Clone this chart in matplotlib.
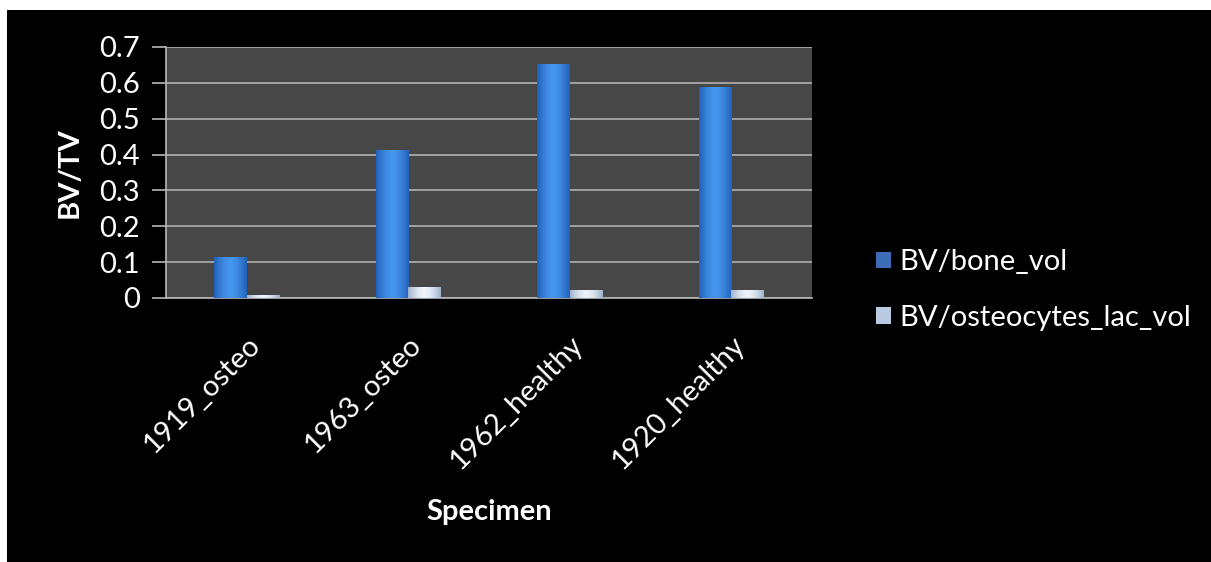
import numpy as np
import matplotlib
matplotlib.use("Agg")
import matplotlib.pyplot as plt
from matplotlib.patches import Rectangle

plt.rcParams['font.family'] = ['Lato', 'DejaVu Sans']

specimens = ['1919_osteo', '1963_osteo', '1962_healthy', '1920_healthy']
bone_vol = [0.115, 0.412, 0.652, 0.588]
lac_vol = [0.008, 0.032, 0.022, 0.022]
series_names = ['BV/bone_vol', 'BV/osteocytes_lac_vol']
yticks = [0, 0.1, 0.2, 0.3, 0.4, 0.5, 0.6, 0.7]

fig = plt.figure(figsize=(12.11, 5.62), dpi=100, facecolor='white')
# black slide background
fig.patches.append(Rectangle((7 / 1211, 0), 1, 1 - 10 / 562, transform=fig.transFigure,
                             facecolor='black', edgecolor='none', zorder=-10))

ax = fig.add_axes([166 / 1211, 1 - 298 / 562, 646 / 1211, 251 / 562])
ax.set_facecolor('#474747')

x = np.arange(len(specimens))
w = 0.2

def gradient_bars(bars, dark, light):
    # horizontal shading across each bar, lighter in the middle
    g = np.linspace(-1, 1, 64)
    shade = 1 - np.abs(g) ** 1.6
    c0 = np.array(matplotlib.colors.to_rgb(dark))
    c1 = np.array(matplotlib.colors.to_rgb(light))
    img = (c0[None, :] + (c1 - c0)[None, :] * shade[:, None])[None, :, :]
    for b in bars:
        x0, y0 = b.get_x(), b.get_y()
        bw, bh = b.get_width(), b.get_height()
        im = ax.imshow(img, extent=[x0, x0 + bw, y0, y0 + bh], aspect='auto',
                       zorder=3, interpolation='bilinear')
        im.set_clip_path(b)
        b.set_facecolor('none')

b1 = ax.bar(x - w / 2, bone_vol, w, color='#2a6fc9', zorder=3, linewidth=0)
b2 = ax.bar(x + w / 2, lac_vol, w, color='#cfdcee', zorder=3, linewidth=0)
gradient_bars(b1, '#2260b8', '#4596ee')
gradient_bars(b2, '#9fb2cc', '#eef3fa')

ax.set_xlim(-0.5, len(specimens) - 0.5)
ax.set_ylim(0, 0.7)
ax.set_yticks(yticks)
ax.set_yticklabels([f'{t:g}' for t in yticks])
ax.yaxis.grid(True, color='#b0b0b0', linewidth=1.2, zorder=1)
ax.set_axisbelow(True)

for s in ['top', 'right']:
    ax.spines[s].set_visible(False)
for s in ['left', 'bottom']:
    ax.spines[s].set_color('#b8b8b8')
    ax.spines[s].set_linewidth(1.2)

ax.tick_params(axis='y', colors='#b8b8b8', labelcolor='white', labelsize=21,
               length=10, width=1.2, pad=9)
ax.tick_params(axis='x', length=0, labelcolor='white', labelsize=21, pad=24)
ax.set_xticks(x)
ax.set_xticklabels(specimens, rotation=45, ha='right', rotation_mode='anchor')

ax.set_ylabel('BV/TV', color='white', fontsize=21, fontweight='bold', labelpad=12)
ax.set_xlabel('Specimen', color='white', fontsize=21, fontweight='bold', labelpad=18)

handles = [Rectangle((0, 0), 1, 1, facecolor='#3a6db5'),
           Rectangle((0, 0), 1, 1, facecolor='#b9cbe3')]
leg = fig.legend(handles, series_names, loc='center left',
                 bbox_to_anchor=(850 / 1211, 1 - 290 / 562), frameon=False,
                 fontsize=21, labelcolor='white', handlelength=0.5, handleheight=0.5,
                 handletextpad=0.3, labelspacing=1.0)

fig.savefig('out.png', dpi=100, facecolor='white')
